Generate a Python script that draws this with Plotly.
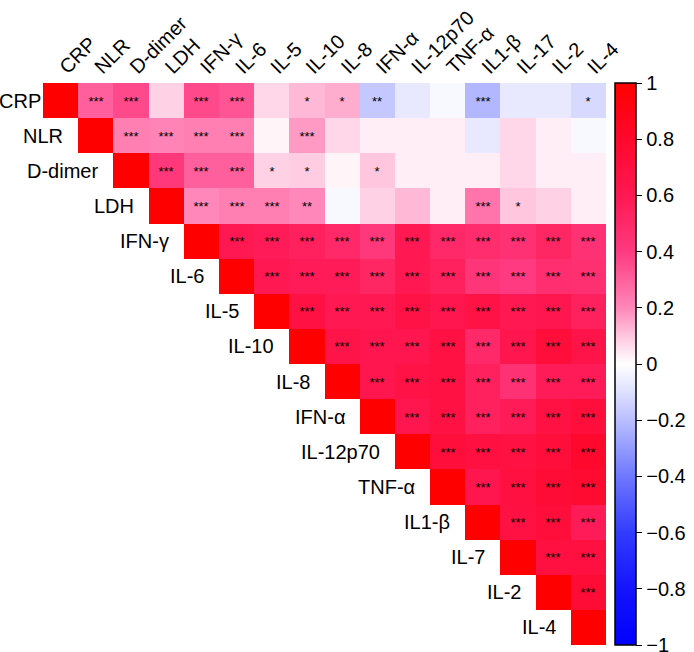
import plotly.graph_objects as go

col_labels = ["CRP", "NLR", "D-dimer", "LDH", "IFN-γ", "IL-6", "IL-5", "IL-10", "IL-8",
              "IFN-α", "IL-12p70", "TNF-α", "IL1-β", "IL-17", "IL-2", "IL-4"]
row_labels = ["CRP", "NLR", "D-dimer", "LDH", "IFN-γ", "IL-6", "IL-5", "IL-10", "IL-8",
              "IFN-α", "IL-12p70", "TNF-α", "IL1-β", "IL-7", "IL-2", "IL-4"]

# upper-triangle correlations, each row starts at the diagonal
r_crp = [1, 0.30, 0.36, 0.08, 0.36, 0.33, 0.07, 0.12, 0.14, -0.17, -0.07, -0.02, -0.22, -0.07, -0.07, -0.12]
r_nlr = [1, 0.22, 0.21, 0.22, 0.22, 0.02, 0.17, 0.07, 0.03, 0.03, 0.03, -0.07, 0.07, 0.03, -0.02]
r_ddimer = [1, 0.42, 0.30, 0.30, 0.08, 0.09, 0.02, 0.10, 0.03, 0.03, 0.03, 0.07, 0.03, 0.03]
r_ldh = [1, 0.20, 0.22, 0.22, 0.20, -0.02, 0.08, 0.12, 0.03, 0.25, 0.10, 0.08, 0.03]
r_ifng = [1, 0.60, 0.58, 0.55, 0.50, 0.42, 0.60, 0.50, 0.48, 0.45, 0.52, 0.45]
r_il6 = [1, 0.60, 0.58, 0.58, 0.52, 0.60, 0.55, 0.43, 0.40, 0.47, 0.46]
r_il5 = [1, 0.68, 0.60, 0.60, 0.67, 0.62, 0.67, 0.60, 0.62, 0.55]
r_il10 = [1, 0.65, 0.62, 0.62, 0.68, 0.50, 0.62, 0.72, 0.65]
r_il8 = [1, 0.62, 0.66, 0.68, 0.55, 0.45, 0.58, 0.58]
r_ifna = [1, 0.62, 0.68, 0.55, 0.58, 0.68, 0.72]
r_il12 = [1, 0.72, 0.70, 0.68, 0.72, 0.80]
r_tnfa = [1, 0.62, 0.70, 0.75, 0.78]
r_il1b = [1, 0.68, 0.72, 0.58]
r_il17 = [1, 0.70, 0.70]
r_il2 = [1, 0.75]
r_il4 = [1]

s_crp = ["", "***", "***", "", "***", "***", "", "*", "*", "**", "", "", "***", "", "", "*"]
s_nlr = ["", "***", "***", "***", "***", "", "***", "", "", "", "", "", "", "", ""]
s_ddimer = ["", "***", "***", "***", "*", "*", "", "*", "", "", "", "", "", ""]
s_ldh = ["", "***", "***", "***", "**", "", "", "", "", "***", "*", "", ""]

cbar_vals = [-1, -0.8, -0.6, -0.4, -0.2, 0, 0.2, 0.4, 0.6, 0.8, 1]
cbar_text = ["−1", "−0.8", "−0.6", "−0.4", "−0.2", "0", "0.2", "0.4", "0.6", "0.8", "1"]

rows = [r_crp, r_nlr, r_ddimer, r_ldh, r_ifng, r_il6, r_il5, r_il10, r_il8,
        r_ifna, r_il12, r_tnfa, r_il1b, r_il17, r_il2, r_il4]
star_rows = [s_crp, s_nlr, s_ddimer, s_ldh]

n = len(col_labels)
z = []
txt = []
for i, r in enumerate(rows):
    z.append([None] * i + r)
    if i < len(star_rows):
        s = star_rows[i]
    else:
        s = [""] + ["***"] * (len(r) - 1)
    txt.append([""] * i + s)

colorscale = [
    [0.00, "rgb(0,0,255)"],
    [0.10, "rgb(20,20,255)"],
    [0.20, "rgb(50,60,255)"],
    [0.30, "rgb(110,120,255)"],
    [0.40, "rgb(185,190,255)"],
    [0.45, "rgb(222,224,255)"],
    [0.50, "rgb(255,255,255)"],
    [0.55, "rgb(255,198,222)"],
    [0.60, "rgb(255,135,185)"],
    [0.70, "rgb(255,58,128)"],
    [0.80, "rgb(255,24,82)"],
    [0.90, "rgb(255,8,45)"],
    [1.00, "rgb(255,0,0)"],
]

FONT = "Liberation Sans, Arial, Helvetica, sans-serif"

fig = go.Figure(go.Heatmap(
    z=z, x=list(range(n)), y=list(range(n)),
    text=txt, texttemplate="%{text}",
    textfont=dict(size=13, color="black", family=FONT),
    colorscale=colorscale, zmin=-1, zmax=1,
    hoverongaps=False,
    colorbar=dict(
        x=1.0157, xanchor="left", xref="paper", xpad=0, ypad=0,
        y=0.5, yanchor="middle", len=1, lenmode="fraction",
        thickness=21, outlinewidth=1.5, outlinecolor="black",
        tickmode="array",
        tickvals=cbar_vals,
        ticktext=cbar_text,
        ticklabeloverflow="allow",
        ticks="outside", ticklen=6, tickwidth=1.2, tickcolor="black",
        tickfont=dict(size=20, family=FONT, color="black"),
    ),
))

annotations = []
for i, lab in enumerate(row_labels):
    annotations.append(dict(
        x=i - 0.5, y=i, xref="x", yref="y", text=lab, showarrow=False,
        xanchor="right", yanchor="middle", xshift=0 if i == 0 else -13,
        font=dict(size=20, family=FONT, color="black"),
    ))

fig.update_layout(
    width=694, height=652,
    margin=dict(l=43, r=77, t=71, b=7),
    plot_bgcolor="white", paper_bgcolor="white",
    xaxis=dict(side="top", tickmode="array", tickvals=list(range(n)), ticktext=col_labels,
               tickangle=-45, showgrid=False, zeroline=False, ticks="", ticklen=0,
               tickfont=dict(size=20, family=FONT, color="black"),
               range=[-0.5, n - 0.5], showline=False),
    yaxis=dict(autorange=False, range=[n - 0.5, -0.5], showticklabels=False, showgrid=False,
               zeroline=False, ticks="", showline=False),
    annotations=annotations,
)

fig.write_html("out.html")
